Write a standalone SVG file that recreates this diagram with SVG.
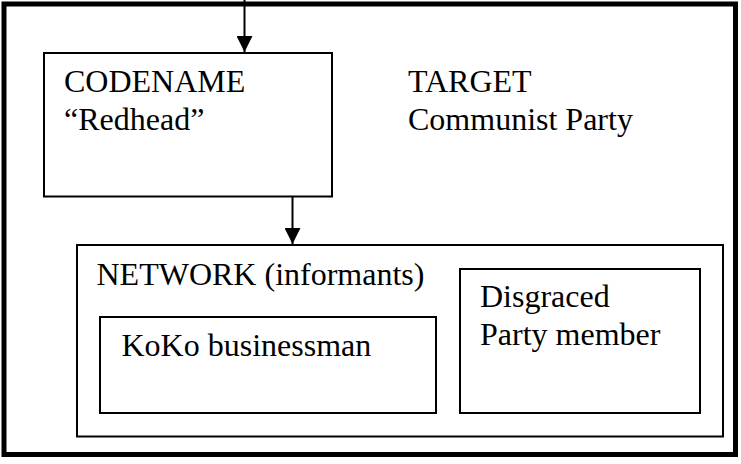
<svg xmlns="http://www.w3.org/2000/svg" width="741" height="464" viewBox="0 0 741 464">
<style>
.box{fill:none;stroke:#000;stroke-width:2}
.t{font-family:"Liberation Serif","Times New Roman",serif;font-size:32px;fill:#000}
.conn{stroke:#000;stroke-width:2;fill:none}
</style>
<defs>
<marker id="ah" viewBox="0 0 16 16" refX="16" refY="8" markerWidth="16" markerHeight="16" markerUnits="userSpaceOnUse" orient="auto">
<path d="M0,0 L16,8 L0,16 Z" fill="#000"/>
</marker>
</defs>
<rect width="741" height="464" fill="#fff"/>
<g id="frame"><rect x="4" y="4" width="731.5" height="450.5" fill="none" stroke="#000" stroke-width="5"/></g>
<g id="codename">
<rect class="box" x="44" y="53" width="288" height="143.5"/>
<text class="t" x="64" y="91.5">CODENAME</text>
<text class="t" x="64" y="130">“Redhead”</text>
</g>
<g id="target">
<text class="t" x="408" y="91.5">TARGET</text>
<text class="t" x="408" y="130">Communist Party</text>
</g>
<g id="network">
<rect class="box" x="77" y="245" width="646" height="191.5"/>
<text class="t" x="96.5" y="285">NETWORK (informants)</text>
</g>
<g id="koko">
<rect class="box" x="100" y="317" width="336" height="96"/>
<text class="t" x="121.5" y="356">KoKo businessman</text>
</g>
<g id="disgraced">
<rect class="box" x="460" y="269" width="240" height="144"/>
<text class="t" x="480" y="307">Disgraced</text>
<text class="t" x="480" y="345">Party member</text>
</g>
<g id="connectors">
<line class="conn" x1="244.5" y1="0" x2="244.5" y2="52" marker-end="url(#ah)"/>
<line class="conn" x1="292.5" y1="197" x2="292.5" y2="244" marker-end="url(#ah)"/>
</g>
</svg>
